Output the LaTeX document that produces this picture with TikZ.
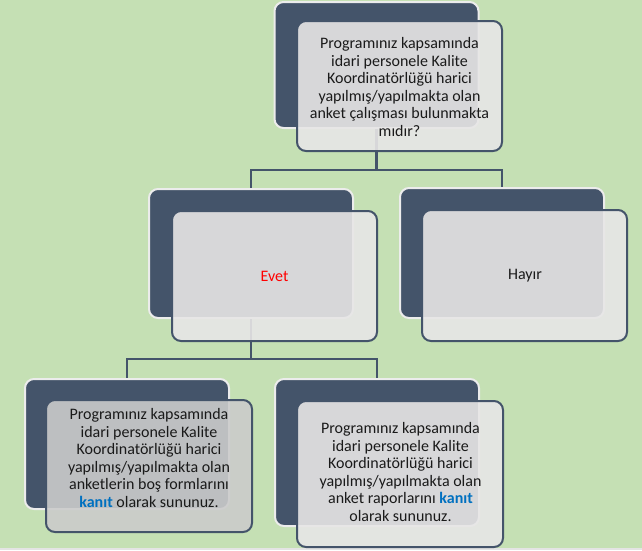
\documentclass[tikz,border=0pt]{standalone}
\usepackage{fontspec}
\setmainfont{Carlito}
\usetikzlibrary{positioning}
\definecolor{bggreen}{HTML}{C5E0B4}
\definecolor{slate}{HTML}{44546A}
\definecolor{lightfill}{HTML}{E7E6E6}
\definecolor{greyfill}{HTML}{CBCBCB}
\definecolor{rimwhite}{HTML}{ECECEC}
\definecolor{txt}{HTML}{1A1A1A}
\definecolor{kanit}{HTML}{0070C0}
\definecolor{strip}{HTML}{E4E4E4}
\tikzset{
  back/.style={draw=rimwhite, line width=2pt, fill=slate, rounded corners=9pt,
    minimum width=204pt, inner sep=0pt, anchor=center},
  front/.style={draw=slate, line width=2pt, fill=lightfill, fill opacity=0.9,
    rounded corners=9pt, minimum width=205pt, inner sep=0pt, anchor=center},
  conn/.style={draw=slate, line width=2.5pt},
  lbl/.style={text=txt, align=center, font=\fontsize{16}{17.6}\selectfont, inner sep=0pt},
}
\newcommand{\kan}{\textcolor{kanit}{\textbf{kanıt}}}
\begin{document}
\begin{tikzpicture}[x=1pt,y=-1pt]
\useasboundingbox (0,0) rectangle (642,550);
\fill[bggreen] (0,0) rectangle (642,550);
\fill[strip] (0,548) rectangle (642,550);
% back boxes
\node[back, minimum height=126pt] (topD) at (376.5,65) {};
\node[back, minimum height=129pt] (evetD) at (251,253.5) {};
\node[back, minimum height=130pt] (hayirD) at (502,253) {};
\node[back, minimum height=130pt] (blD) at (127,444) {};
\node[back, minimum height=147pt] (brD) at (377,452.5) {};
% connectors
\coordinate (j1) at (376.5,170);
\coordinate (j2) at (251,359);
\draw[conn] (topD.south) -- (j1);
\draw[conn] (j1) -| (evetD.north);
\draw[conn] (j1) -| (hayirD.north);
\draw[conn] (evetD.south) -- (j2);
\draw[conn] (j2) -| (blD.north);
\draw[conn] (j2) -| (brD.north);
% front boxes
\node[front, minimum height=130pt] (topL) at (399.5,86) {};
\node[front, minimum height=130pt] (evetL) at (274.5,276) {};
\node[front, minimum height=131pt] (hayirL) at (524.5,275.5) {};
\node[front, fill=greyfill, minimum height=132pt, minimum width=206pt] (blL) at (149,466) {};
\node[front, minimum height=146pt, minimum width=206pt] (brL) at (400,474) {};
% texts
\node[lbl] (topT) at (399.5,87) {Programınız kapsamında\\idari personele Kalite\\Koordinatörlüğü harici\\yapılmış/yapılmakta olan\\anket çalışması bulunmakta\\mıdır?};
\node[lbl, text=red] (evetT) at (274.5,276) {Evet};
\node[lbl] (hayirT) at (525,276) {Hayır};
\node[lbl] (blT) at (149,458) {Programınız kapsamında\\idari personele Kalite\\Koordinatörlüğü harici\\yapılmış/yapılmakta olan\\anketlerin boş formlarını\\\kan{} olarak sununuz.};
\node[lbl] (brT) at (400.5,472) {Programınız kapsamında\\idari personele Kalite\\Koordinatörlüğü harici\\yapılmış/yapılmakta olan\\anket raporlarını \kan\\olarak sununuz.};
\end{tikzpicture}
\end{document}
